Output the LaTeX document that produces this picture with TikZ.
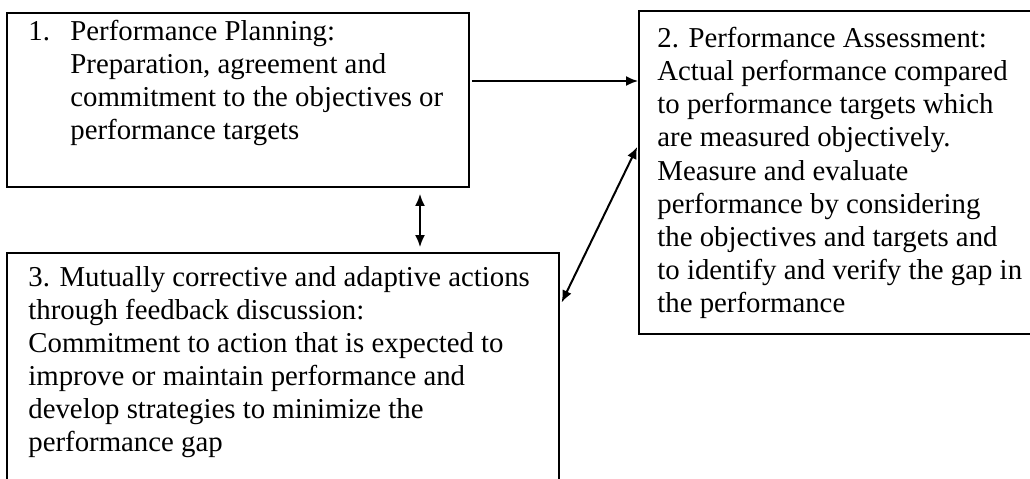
\documentclass[tikz,border=0pt]{standalone}
\usepackage{fontspec}
\setmainfont{Liberation Serif}
\usetikzlibrary{fit,arrows.meta}
\tikzset{
  box/.style={draw, line width=0.9pt, inner sep=0pt},
  txt/.style={anchor=north west, inner sep=0pt, align=left,
    font=\fontsize{14.4}{16.55}\selectfont},
  arr/.style={line width=1pt, >={Latex[length=6pt,width=5pt]}},
}
\begin{document}
\begin{tikzpicture}[x=0.5pt,y=-0.5pt]
\useasboundingbox (0,0) rectangle (1030,478);
\clip (0,0) rectangle (1030,478); % boxes 2 and 3 run off the page
% the three boxes
\node[box, fit={(7,13) (469,187)}] (plan) {};
\node[box, fit={(639,11) (1045,334)}] (assess) {};
\node[box, fit={(7,253) (559,520)}] (action) {};
% their texts
\node[txt] (plantxt) at (70,20) {\llap{\makebox[21pt][l]{1.}}Performance Planning:\\
  Preparation, agreement and\\
  commitment to the objectives or\\
  performance targets};
\node[txt] (assesstxt) at (657,27) {2. Performance Assessment:\\
  Actual performance compared\\
  to performance targets which\\
  are measured objectively.\\
  Measure and evaluate\\
  performance by considering\\
  the objectives and targets and\\
  to identify and verify the gap in\\
  the performance};
\node[txt] (actiontxt) at (28,266) {3. Mutually corrective and adaptive actions\\
  through feedback discussion:\\
  Commitment to action that is expected to\\
  improve or maintain performance and\\
  develop strategies to minimize the\\
  performance gap};
% connectors
\coordinate (h) at (0,81);
\coordinate (v) at (420,0);
\coordinate (dtop) at (0,145);
\coordinate (dbot) at (0,306);
\draw[arr,->,shorten <=1pt] (plan.east |- h) -- (assess.west |- h);
\draw[arr,<->,shorten <=3pt,shorten >=2.5pt] (plan.south -| v) -- (action.north -| v);
\draw[arr,<->,shorten <=1pt,shorten >=2pt] (assess.west |- dtop) -- (action.east |- dbot);
\end{tikzpicture}
\end{document}
